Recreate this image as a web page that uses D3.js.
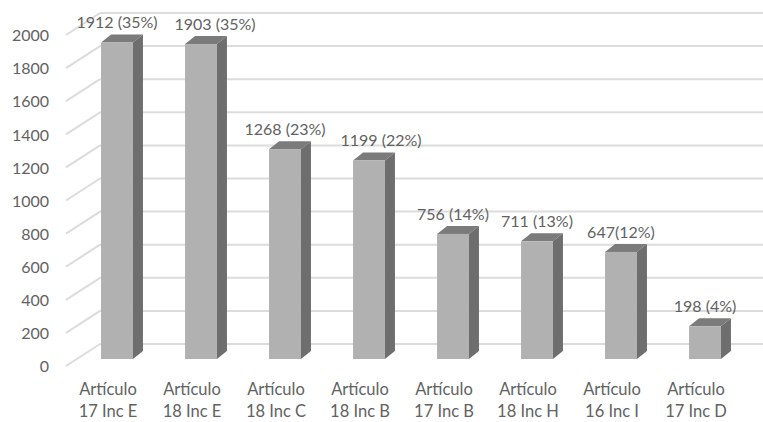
<!DOCTYPE html>
<html>
<head>
<meta charset="utf-8">
<script src="https://cdn.jsdelivr.net/npm/d3@7"></script>
<style>
  html, body { margin: 0; padding: 0; background: #ffffff; }
  svg { display: block; }
  text { font-family: Lato, "Open Sans", sans-serif; fill: #626262; }
</style>
</head>
<body>
<svg id="chart" width="763" height="422"></svg>
<script>
// Cantidad de casos por artículo / inciso
const categories = [
  "Artículo 17 Inc E",
  "Artículo 18 Inc E",
  "Artículo 18 Inc C",
  "Artículo 18 Inc B",
  "Artículo 17 Inc B",
  "Artículo 18 Inc H",
  "Artículo 16 Inc I",
  "Artículo 17 Inc D"
];
const values = [1912, 1903, 1268, 1199, 756, 711, 647, 198];
const pctText = [" (35%)", " (35%)", " (23%)", " (22%)", " (14%)", " (13%)", "(12%)", " (4%)"];
const yTicks = [0, 200, 400, 600, 800, 1000, 1200, 1400, 1600, 1800, 2000];

const W = 763, H = 422;
const svg = d3.select("#chart");

// Oblique 3D projection: front plane scales, plus offsets into depth
const wall = { dx: 34, dy: -22 };      // front plane -> back wall
const barFront = { dx: 9, dy: -7 };    // front plane -> bar front face
const barDepth = { dx: 10, dy: -8 };   // bar front face -> bar back face
// horizontal nudges for value labels that would otherwise collide
const labelNudge = { "Artículo 18 Inc E": 14, "Artículo 18 Inc B": 12 };

const x = d3.scaleBand()
  .domain(categories)
  .range([66, 738])
  .paddingInner(0.62)
  .paddingOuter(0.31);

const y = d3.scaleLinear().domain([0, 2000]).range([366, 35]);

const colors = { front: "#b1b1b1", side: "#6e6e6e", top: "#7b7b7b", grid: "#dcdcdc" };

// Back wall gridlines and side wall lines
const grid = svg.append("g");
grid.selectAll("line.back")
  .data(yTicks)
  .join("line")
  .attr("class", "back")
  .attr("x1", x.range()[0] + wall.dx)
  .attr("x2", W)
  .attr("y1", d => y(d) + wall.dy)
  .attr("y2", d => y(d) + wall.dy)
  .attr("stroke", colors.grid)
  .attr("stroke-width", 2);
grid.selectAll("line.side")
  .data(yTicks)
  .join("line")
  .attr("class", "side")
  .attr("x1", x.range()[0])
  .attr("x2", x.range()[0] + wall.dx)
  .attr("y1", d => y(d))
  .attr("y2", d => y(d) + wall.dy)
  .attr("stroke", colors.grid)
  .attr("stroke-width", 2);

// Y axis labels
const yAxis = d3.axisLeft(y).tickValues(yTicks).tickFormat(d3.format("d")).tickSize(0).tickPadding(0);
const yg = svg.append("g")
  .attr("transform", "translate(49,0)")
  .call(yAxis);
yg.select(".domain").remove();
yg.selectAll("text")
  .attr("font-size", 16)
  .attr("font-family", "Lato, sans-serif")
  .attr("fill", "#626262")
  .attr("dy", "0.36em");

// Bars
const bw = x.bandwidth();
const bars = svg.append("g").selectAll("g.bar")
  .data(categories.map((c, i) => ({ c, v: values[i], p: pctText[i] })))
  .join("g")
  .attr("class", "bar");

bars.each(function(d) {
  const g = d3.select(this);
  const x0 = x(d.c) + barFront.dx;
  const x1 = x0 + bw;
  const yt = y(d.v) + barFront.dy;
  const yb = y(0) + barFront.dy;
  const pt = (a, b) => a + "," + b;
  // top face
  g.append("polygon")
    .attr("points", [pt(x0, yt), pt(x0 + barDepth.dx, yt + barDepth.dy),
                     pt(x1 + barDepth.dx, yt + barDepth.dy), pt(x1, yt)].join(" "))
    .attr("fill", colors.top);
  // side face
  g.append("polygon")
    .attr("points", [pt(x1, yt), pt(x1 + barDepth.dx, yt + barDepth.dy),
                     pt(x1 + barDepth.dx, yb + barDepth.dy), pt(x1, yb)].join(" "))
    .attr("fill", colors.side);
  // front face
  g.append("rect")
    .attr("x", x0).attr("y", yt)
    .attr("width", bw).attr("height", yb - yt)
    .attr("fill", colors.front);
  // value label
  g.append("text")
    .attr("x", x0 + bw / 2 + (labelNudge[d.c] || 0))
    .attr("y", yt + barDepth.dy - 12)
    .attr("dy", "0.36em")
    .attr("text-anchor", "middle")
    .attr("font-size", 16)
    .text(d.v + d.p);
});

// Category labels (two lines)
const cats = svg.append("g").selectAll("text.cat")
  .data(categories)
  .join("text")
  .attr("class", "cat")
  .attr("text-anchor", "middle")
  .attr("font-size", 16.5)
  .attr("x", d => x(d) + bw / 2);
cats.append("tspan")
  .attr("x", d => x(d) + bw / 2)
  .attr("y", 395)
  .text(d => d.slice(0, d.indexOf(" ")));
cats.append("tspan")
  .attr("x", d => x(d) + bw / 2)
  .attr("y", 417)
  .text(d => d.slice(d.indexOf(" ") + 1));
</script>
</body>
</html>
